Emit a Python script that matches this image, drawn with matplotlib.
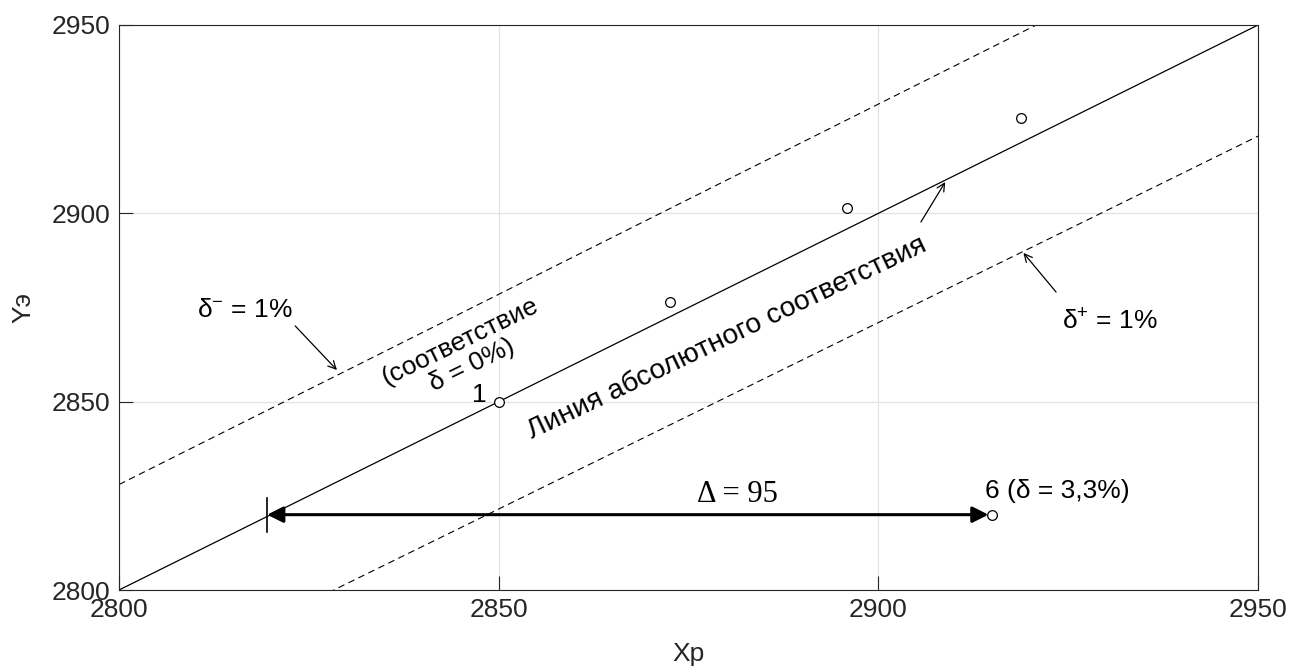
#! /usr/bin/env python3

import numpy as np
import matplotlib.pyplot as plt

plt.rcParams['font.family'] = ['Liberation Sans', 'DejaVu Sans']
plt.rcParams['mathtext.fontset'] = 'custom'
plt.rcParams['mathtext.rm'] = 'Liberation Sans'
plt.rcParams['mathtext.it'] = 'Liberation Sans:italic'
plt.rcParams['mathtext.bf'] = 'Liberation Sans:bold'

# measured vs calculated points
xp = [2850.0, 2872.6, 2895.8, 2918.8, 2915.0]
ye = [2850.0, 2876.5, 2901.5, 2925.3, 2820.0]

# line range and tolerance
x_line = np.array([2800.0, 2950.0])
tol = 0.01

# deviation arrow for point 6
d_start = 2819.5
d_end = 2914.5
d_y = 2820.0

ticks = [2800, 2850, 2900, 2950]


def main():
	fig = plt.figure(figsize=(12.91, 6.70), dpi=100)
	ax = fig.add_axes([0.0922, 0.1194, 0.8823, 0.8433])

	k = '#262626'
	fs = 19

	# lines
	ax.plot(x_line, x_line, color='black', lw=0.9)
	ax.plot(x_line, x_line * (1 + tol), '--', color='black', lw=0.8, dashes=(6, 4))
	ax.plot(x_line, x_line * (1 - tol), '--', color='black', lw=0.8, dashes=(6, 4))

	# points
	ax.plot(xp, ye, 'o', mfc='white', mec='black', mew=0.9, ms=7, zorder=5)

	# delta arrow
	ax.annotate('', xy=(d_end, d_y), xytext=(d_start, d_y),
		arrowprops=dict(arrowstyle='<|-|>', color='black', lw=2.2,
			mutation_scale=24, shrinkA=0, shrinkB=0), zorder=4)
	ax.plot([d_start, d_start], [d_y - 4.5, d_y + 4.5], color='black', lw=1.2)
	ax.text(2881.4, 2823.4, 'Δ = {:.0f}'.format(d_end - d_start),
		family='Liberation Serif', fontsize=22, ha='center', va='baseline')

	# labels
	ax.text(2914.0, 2824.4, '6 (δ = 3,3%)', fontsize=fs, ha='left', va='baseline')
	ax.text(2847.5, 2851.8, '1', fontsize=fs, ha='center', va='center')
	ax.text(2845.7, 2862.8, '(соответствие\nδ = 0%)', fontsize=fs, ha='center',
		va='center', rotation=26, multialignment='center', linespacing=1.1)
	ax.text(2880.1, 2866.9, 'Линия абсолютного соответствия', fontsize=20.3,
		ha='center', va='center', rotation=25.5)

	ax.text(2816.6, 2874.3, 'δ$^{-}$ = 1%', fontsize=fs, ha='center', va='center')
	ax.annotate('', xy=(2828.7, 2858.4), xytext=(2823.2, 2870.1),
		arrowprops=dict(arrowstyle='->', color='black', lw=0.9,
			mutation_scale=14, shrinkA=0, shrinkB=0))

	ax.text(2930.5, 2871.1, 'δ$^{+}$ = 1%', fontsize=fs, ha='center', va='center')
	ax.annotate('', xy=(2919.1, 2889.5), xytext=(2923.4, 2879.1),
		arrowprops=dict(arrowstyle='->', color='black', lw=0.9,
			mutation_scale=14, shrinkA=0, shrinkB=0))

	ax.annotate('', xy=(2908.8, 2908.3), xytext=(2905.6, 2897.7),
		arrowprops=dict(arrowstyle='->', color='black', lw=0.9,
			mutation_scale=14, shrinkA=0, shrinkB=0))

	# axes
	ax.set_xlim(2800, 2950)
	ax.set_ylim(2800, 2950)
	ax.set_xticks(ticks)
	ax.set_yticks(ticks)
	ax.grid(True, color='#e3e3e3', lw=0.9)
	ax.set_axisbelow(True)
	ax.tick_params(direction='in', length=10, width=0.8, colors=k,
		labelsize=fs, pad=6)
	for s in ax.spines.values():
		s.set_color(k)
		s.set_linewidth(0.8)
	ax.set_xlabel('Xp', fontsize=fs, color=k, labelpad=14)
	ax.set_ylabel('Yэ', fontsize=fs, color=k, labelpad=12)

	fig.savefig('out.png', dpi=100)


if __name__ == "__main__":
	main()
